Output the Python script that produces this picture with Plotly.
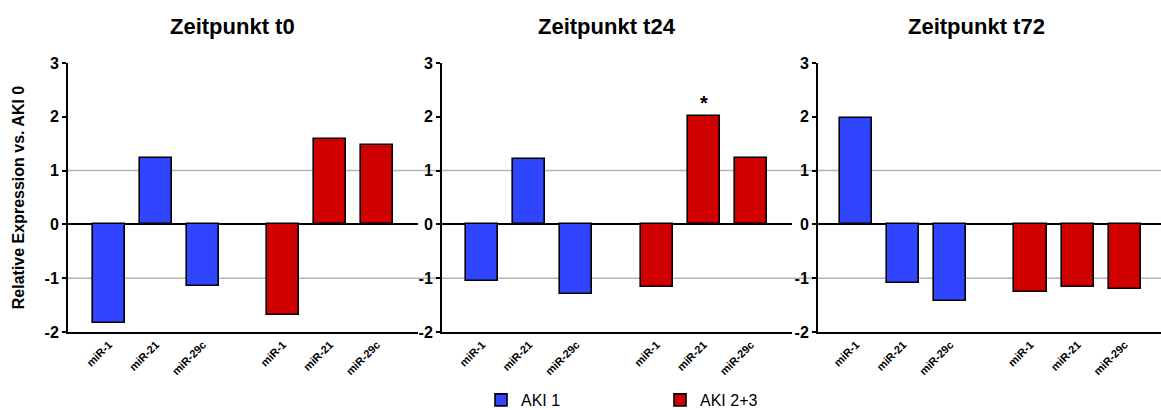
import plotly.graph_objects as go

W, H = 1161, 410

categories = ["miR-1", "miR-21", "miR-29c"]
timepoints = ["Zeitpunkt t0", "Zeitpunkt t24", "Zeitpunkt t72"]
groups = ["AKI 1", "AKI 2+3"]

aki1_t0 = [-1.84, 1.24, -1.15]
aki23_t0 = [-1.69, 1.58, 1.47]
aki1_t24 = [-1.06, 1.22, -1.29]
aki23_t24 = [-1.17, 2.02, 1.24]
aki1_t72 = [1.98, -1.09, -1.43]
aki23_t72 = [-1.25, -1.16, -1.20]

y_ticks = [-2, -1, 0, 1, 2, 3]
y_tick_labels = ["-2", "-1", "0", "1", "2", "3"]

panel_values = [(aki1_t0, aki23_t0), (aki1_t24, aki23_t24), (aki1_t72, aki23_t72)]
colors = ["#3045FF", "#D00000"]

FONT = "Liberation Sans, Arial, sans-serif"

# layout geometry (pixels)
dom_px = [(68, 418), (442, 792), (818, 1161)]
ranges = [(-0.87, 6.57), (-0.85, 6.57), (-0.81, 6.47)]
y_dom = [(H - 332) / H, (H - 63) / H]

group_gap = 3.7
pos1 = [i for i in range(len(categories))]
pos2 = [group_gap + i for i in range(len(categories))]

fig = go.Figure()

for p, (v1, v2) in enumerate(panel_values):
    xa = "x" if p == 0 else f"x{p+1}"
    ya = "y" if p == 0 else f"y{p+1}"
    for g, (pos, vals) in enumerate([(pos1, v1), (pos2, v2)]):
        fig.add_trace(go.Bar(
            x=pos, y=vals, width=0.68, name=groups[g],
            marker=dict(color=colors[g], line=dict(color="black", width=1.6)),
            xaxis=xa, yaxis=ya, showlegend=(p == 0), legendgroup=groups[g],
        ))

layout = dict(
    width=W, height=H,
    margin=dict(l=0, r=0, t=0, b=0, autoexpand=False),
    paper_bgcolor="white", plot_bgcolor="white",
    font=dict(family=FONT, color="black"),
    bargap=0,
    legend=dict(orientation="h", x=481 / W, xanchor="left", y=10 / H, yanchor="middle",
                font=dict(size=16, family=FONT), entrywidth=134, entrywidthmode="pixels",
                bgcolor="rgba(0,0,0,0)"),
)

for p in range(3):
    sx = "" if p == 0 else str(p + 1)
    layout[f"xaxis{sx}"] = dict(
        domain=[dom_px[p][0] / W, dom_px[p][1] / W], range=list(ranges[p]),
        anchor=f"y{sx}", showline=True, linewidth=2, linecolor="black",
        tickvals=pos1 + pos2, ticktext=categories + categories, tickangle=-45,
        tickfont=dict(size=11, family=FONT, weight="bold"), ticks="",
        showgrid=False, zeroline=False, automargin=False,
    )
    yax = dict(
        domain=y_dom, range=[-2, 3], anchor=f"x{sx}",
        showline=True, linewidth=2, linecolor="black",
        tickvals=y_ticks, ticktext=y_tick_labels,
        ticks="outside", ticklen=4, tickwidth=2, tickcolor="black",
        tickfont=dict(size=16, family=FONT, weight="bold"),
        showgrid=False, zeroline=True, zerolinecolor="black", zerolinewidth=2,
        automargin=False,
    )
    if p == 0:
        yax["title"] = dict(text="Relative Expression vs. AKI 0",
                            font=dict(size=16, family=FONT, weight="bold"), standoff=16)
    layout[f"yaxis{sx}"] = yax

title_px = [232, 607, 976]
annotations = []
for p, t in enumerate(timepoints):
    annotations.append(dict(text=t, xref="paper", yref="paper", x=title_px[p] / W,
                            y=1 - 26 / H, xanchor="center", yanchor="middle", showarrow=False,
                            font=dict(size=22, family=FONT, weight="bold")))
# significance marker on AKI 2+3 miR-21 at t24
annotations.append(dict(text="*", xref="x2", yref="y2", x=pos2[1], y=aki23_t24[1],
                        xanchor="center", yanchor="bottom", showarrow=False,
                        font=dict(size=20, family=FONT, weight="bold")))
layout["annotations"] = annotations

shapes = []
for yv in (1, -1):
    shapes.append(dict(type="line", xref="paper", yref="y", x0=68 / W, x1=1, y0=yv, y1=yv,
                       line=dict(color="#b4b4b4", width=1.5), layer="below"))
layout["shapes"] = shapes

fig.update_layout(**layout)
fig.write_html("out.html",
               config={"displayModeBar": False},
               post_script="document.body.style.margin='0';document.body.style.overflow='hidden';")
